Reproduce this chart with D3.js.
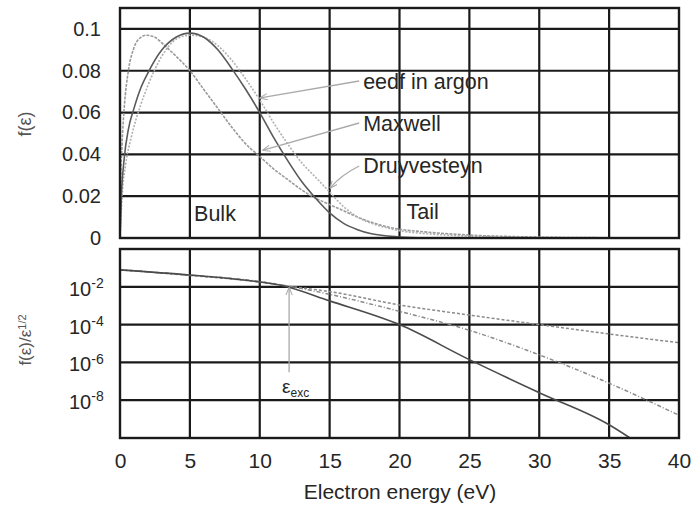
<!DOCTYPE html>
<html>
<head>
<meta charset="utf-8">
<script src="https://cdn.jsdelivr.net/npm/d3@7"></script>
<style>
  html, body { margin: 0; padding: 0; background: #fff; }
  svg { display: block; font-family: "Liberation Sans", Arial, sans-serif; }
</style>
</head>
<body>
<svg id="chart" width="695" height="506"></svg>
<script>
// ---- data -------------------------------------------------------------
// energy ticks (eV)
const energyTicks = [0, 5, 10, 15, 20, 25, 30, 35, 40];
// linear panel ticks
const fTicks = [0, 0.02, 0.04, 0.06, 0.08, 0.1];
const fTickLabels = ["0", "0.02", "0.04", "0.06", "0.08", "0.1"];
// log panel ticks (exponents of ten)
const logTicks = [1e-2, 1e-4, 1e-6, 1e-8];
const logTickExps = ["-2", "-4", "-6", "-8"];

// f(ε) : [energy, value]
const maxwellF = [[0,0],[0.05,0.025],[0.15,0.045],[0.3,0.062],[0.6,0.08],[1.0,0.091],[1.5,0.096],[1.9,0.097],[2.5,0.096],[3.2,0.092],[4,0.087],[5,0.080],[6,0.071],[7,0.062],[8,0.053],[9,0.045],[10,0.039],[11,0.033],[12,0.028],[13,0.023],[14,0.019],[15,0.016],[16,0.013],[17,0.010],[18,0.0075],[19,0.0055],[20,0.0042],[22,0.0028],[24,0.0018],[26,0.0011],[28,0.0007],[30,0.0004],[33,0.0002],[36,0.0001],[40,0]];
const eedfF = [[0,0],[0.1,0.02],[0.3,0.038],[0.6,0.052],[1,0.062],[1.5,0.072],[2,0.079],[3,0.090],[4,0.096],[5,0.098],[6,0.096],[7,0.090],[8,0.081],[9,0.071],[10,0.060],[11,0.048],[12,0.037],[13,0.027],[14,0.019],[15,0.012],[16,0.007],[17,0.004],[18,0.002],[20,0.0005],[22,0]];
const druyF = [[0,0],[0.15,0.02],[0.4,0.035],[0.8,0.048],[1.5,0.064],[2,0.073],[3,0.087],[4,0.095],[5,0.097],[6,0.096],[7,0.092],[8,0.085],[9,0.076],[10,0.066],[11,0.055],[12,0.045],[13,0.036],[14,0.029],[15,0.022],[16,0.015],[17,0.010],[18,0.007],[19,0.005],[20,0.0035],[22,0.002],[24,0.0012],[26,0.0007],[28,0.0004],[30,0.0002],[34,0]];

// f(ε)/ε^{1/2} : [energy, value]
const maxwellLog = [[0,7.9e-2],[5,4.0e-2],[10,1.8e-2],[12,1.1e-2],[15,5.6e-3],[20,1.1e-3],[25,3.2e-4],[30,1.0e-4],[35,3.2e-5],[40,1.1e-5]];
const druyLog = [[0,7.9e-2],[5,4.2e-2],[10,1.9e-2],[12,1.1e-2],[15,4.0e-3],[20,5.0e-4],[25,5.0e-5],[30,2.5e-6],[35,7.9e-8],[40,1.6e-9]];
const eedfLog = [[0,7.9e-2],[5,4.2e-2],[10,1.8e-2],[11.5,1.2e-2],[15,1.8e-3],[20,1.0e-4],[25,1.4e-6],[30,2.5e-8],[35,5.0e-10],[36.5,1e-10]];

const epsExc = 12.1;

// ---- layout -------------------------------------------------------------
const svg = d3.select("#chart");
const X0 = 120, X1 = 679;
const panelTop = { y0: 8, y1: 238 };
const panelBot = { y0: 249, y1: 438 };

const x = d3.scaleLinear().domain([0, 40]).range([X0, X1]);
const yTop = d3.scaleLinear().domain([0, 0.11]).range([panelTop.y1, panelTop.y0]);
const yBot = d3.scaleLog().domain([1e-10, 1]).range([panelBot.y1, panelBot.y0]);

const gridColor = "#1a1a1a";
const textColor = "#262626";

svg.append("defs").append("marker")
  .attr("id", "arr").attr("viewBox", "0 0 10 10").attr("refX", 9).attr("refY", 5)
  .attr("markerWidth", 6).attr("markerHeight", 6).attr("orient", "auto-start-reverse")
  .append("path").attr("d", "M0,1 L10,5 L0,9").attr("fill", "none")
  .attr("stroke", "#aaa").attr("stroke-width", 1.3);

// ---- top panel: f(ε) -----------------------------------------------------
const gTop = svg.append("g");
// grid
gTop.append("g").selectAll("line").data(energyTicks.slice(1, -1)).join("line")
  .attr("x1", d => x(d)).attr("x2", d => x(d)).attr("y1", panelTop.y0).attr("y2", panelTop.y1)
  .attr("stroke", gridColor).attr("stroke-width", 2.2);
gTop.append("g").selectAll("line").data(fTicks.slice(1)).join("line")
  .attr("x1", X0).attr("x2", X1).attr("y1", d => yTop(d)).attr("y2", d => yTop(d))
  .attr("stroke", gridColor).attr("stroke-width", 2.2);
// tick labels via axis
const axTop = gTop.append("g").attr("transform", `translate(${X0 - 16},0)`)
  .call(d3.axisLeft(yTop).tickValues(fTicks).tickFormat((d, i) => fTickLabels[i]).tickSize(0));
axTop.select(".domain").remove();
axTop.selectAll("text").attr("font-size", 20).attr("fill", textColor)
  .attr("font-family", "Liberation Sans, Arial, sans-serif").attr("dx", 0);

// curves
const lineTop = d3.line().x(d => x(d[0])).y(d => yTop(d[1])).curve(d3.curveMonotoneX);
gTop.append("path").datum(maxwellF).attr("d", lineTop).attr("fill", "none")
  .attr("stroke", "#9a9a9a").attr("stroke-width", 1.6).attr("stroke-dasharray", "3,1.2");
gTop.append("path").datum(druyF).attr("d", lineTop).attr("fill", "none")
  .attr("stroke", "#b0b0b0").attr("stroke-width", 1.6).attr("stroke-dasharray", "2,1.5");
gTop.append("path").datum(eedfF).attr("d", lineTop).attr("fill", "none")
  .attr("stroke", "#5a5a5a").attr("stroke-width", 1.6);

// frame
gTop.append("rect").attr("x", X0).attr("y", panelTop.y0).attr("width", X1 - X0).attr("height", panelTop.y1 - panelTop.y0)
  .attr("fill", "none").attr("stroke", gridColor).attr("stroke-width", 2.4);

// annotations
const labelX = x(17.4);
const notes = [
  { text: "eedf in argon", ty: 81, to: [9.9, 0.067] },
  { text: "Maxwell", ty: 123, to: [10.1, 0.042] },
  { text: "Druyvesteyn", ty: 165, to: [14.9, 0.024] }
];
notes.forEach((n, i) => {
  const ex = x(n.to[0]), ey = yTop(n.to[1]);
  let d;
  if (i < 2) d = `M${labelX - 4},${n.ty} L${ex + 2},${ey}`;
  else d = `M${labelX - 4},${n.ty + 1} Q${labelX - 22},${n.ty + 10} ${ex + 2},${ey}`;
  gTop.append("path").attr("d", d).attr("fill", "none").attr("stroke", "#aaa")
    .attr("stroke-width", 1.3).attr("marker-end", "url(#arr)");
  gTop.append("text").attr("x", labelX).attr("y", n.ty).attr("dy", "0.35em")
    .attr("font-size", 21.5).attr("fill", textColor).text(n.text);
});
gTop.append("text").attr("x", x(5.3)).attr("y", 213).attr("dy", "0.35em")
  .attr("font-size", 21.5).attr("fill", textColor).text("Bulk");
gTop.append("text").attr("x", x(20.5)).attr("y", 211).attr("dy", "0.35em")
  .attr("font-size", 21.5).attr("fill", textColor).text("Tail");

// y title
svg.append("text").attr("transform", "translate(31,124) rotate(-90)")
  .attr("text-anchor", "middle").attr("font-size", 18).attr("fill", "#555").text("f(ε)");

// ---- bottom panel: f(ε)/ε^{1/2} -----------------------------------------
const gBot = svg.append("g");
gBot.append("g").selectAll("line").data(energyTicks.slice(1, -1)).join("line")
  .attr("x1", d => x(d)).attr("x2", d => x(d)).attr("y1", panelBot.y0).attr("y2", panelBot.y1)
  .attr("stroke", gridColor).attr("stroke-width", 2.2);
gBot.append("g").selectAll("line").data(logTicks).join("line")
  .attr("x1", X0).attr("x2", X1).attr("y1", d => yBot(d)).attr("y2", d => yBot(d))
  .attr("stroke", gridColor).attr("stroke-width", 2.2);

const axBot = gBot.append("g").attr("transform", `translate(${X0 - 33},0)`)
  .call(d3.axisLeft(yBot).tickValues(logTicks).tickFormat(() => "").tickSize(0));
axBot.select(".domain").remove();
axBot.selectAll(".tick text").each(function (d, i) {
  const t = d3.select(this).attr("font-size", 20).attr("fill", textColor).attr("dy", "0.42em");
  t.append("tspan").text("10");
  t.append("tspan").attr("dy", "-0.55em").attr("font-size", 14).text(logTickExps[i]);
});
axBot.selectAll(".tick text").attr("text-anchor", "start").attr("x", -18);

const lineBot = d3.line().x(d => x(d[0])).y(d => yBot(d[1])).curve(d3.curveMonotoneX);
gBot.append("path").datum(maxwellLog).attr("d", lineBot).attr("fill", "none")
  .attr("stroke", "#8a8a8a").attr("stroke-width", 1.5).attr("stroke-dasharray", "3,2");
gBot.append("path").datum(druyLog).attr("d", lineBot).attr("fill", "none")
  .attr("stroke", "#8a8a8a").attr("stroke-width", 1.5).attr("stroke-dasharray", "4,2,1,2");
gBot.append("path").datum(eedfLog).attr("d", lineBot).attr("fill", "none")
  .attr("stroke", "#4a4a4a").attr("stroke-width", 1.6);

// excitation threshold marker
gBot.append("path")
  .attr("d", `M${x(epsExc)},${yBot(3e-7)} L${x(epsExc)},${yBot(1.1e-2) + 2}`)
  .attr("stroke", "#aaa").attr("stroke-width", 1.3).attr("fill", "none")
  .attr("marker-end", "url(#arr)");
const exc = gBot.append("text").attr("x", x(epsExc) - 7).attr("y", 393)
  .attr("font-size", 19).attr("fill", textColor);
exc.append("tspan").text("ε");
exc.append("tspan").attr("dy", "0.3em").attr("font-size", 12).text("exc");

gBot.append("rect").attr("x", X0).attr("y", panelBot.y0).attr("width", X1 - X0).attr("height", panelBot.y1 - panelBot.y0)
  .attr("fill", "none").attr("stroke", gridColor).attr("stroke-width", 2.4);

// x axis labels
const axX = svg.append("g").attr("transform", `translate(0,${panelBot.y1 + 12})`)
  .call(d3.axisBottom(x).tickValues(energyTicks).tickFormat(d3.format("d")).tickSize(0));
axX.select(".domain").remove();
axX.selectAll("text").attr("font-size", 21).attr("fill", textColor);

svg.append("text").attr("x", 400).attr("y", 499)
  .attr("text-anchor", "middle").attr("font-size", 21).attr("fill", textColor)
  .text("Electron energy (eV)");

// y title bottom
const yt = svg.append("text").attr("transform", "translate(31,340) rotate(-90)")
  .attr("text-anchor", "middle").attr("font-size", 17).attr("fill", "#555");
yt.append("tspan").text("f(ε)/ε");
yt.append("tspan").attr("dy", "-0.5em").attr("font-size", 11).text("1/2");
</script>
</body>
</html>
